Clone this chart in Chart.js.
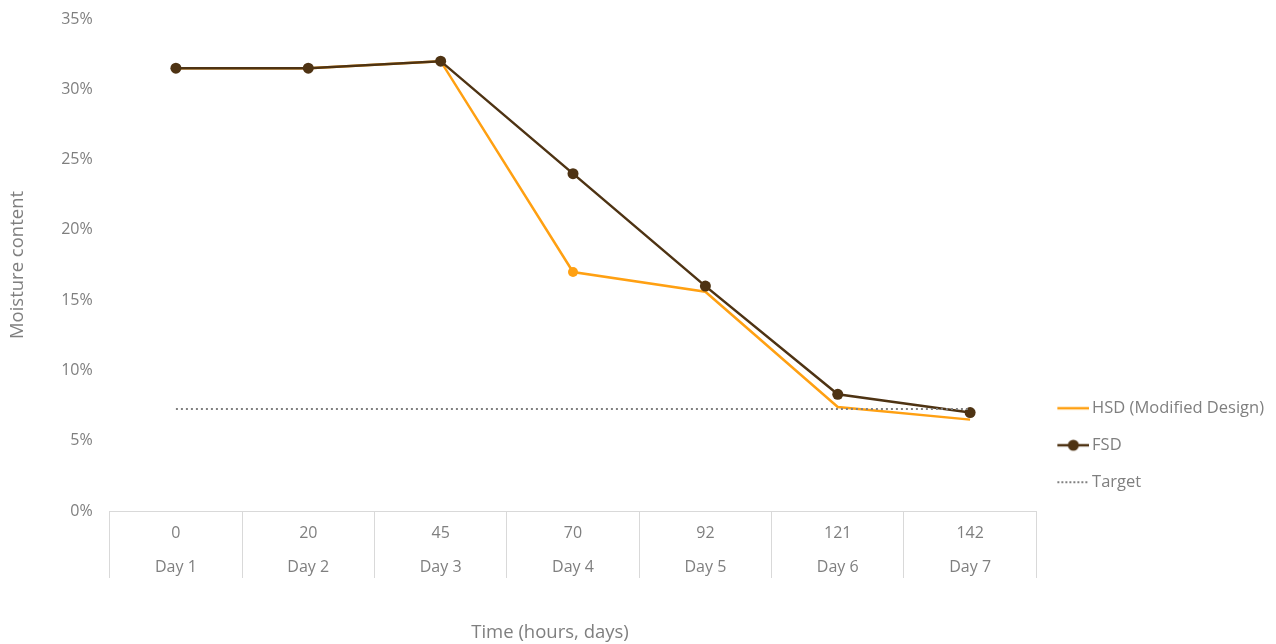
<!DOCTYPE html>
<html>
<head>
<meta charset="utf-8">
<script src="https://cdn.jsdelivr.net/npm/chart.js@4.4.1/dist/chart.umd.min.js"></script>
<style>
  html, body { margin: 0; padding: 0; background: #ffffff; }
  #wrap { width: 1276px; height: 644px; position: relative; }
</style>
</head>
<body>
<div id="wrap"><canvas id="c"></canvas></div>
<script>
const hours = ['0', '20', '45', '70', '92', '121', '142'];
const days = ['Day 1', 'Day 2', 'Day 3', 'Day 4', 'Day 5', 'Day 6', 'Day 7'];
const hsdValues = [31.5, 31.5, 32.0, 17.0, 15.6, 7.4, 6.5];
const fsdValues = [31.5, 31.5, 32.0, 24.0, 16.0, 8.3, 7.0];
const targetValues = [7.25, 7.25, 7.25, 7.25, 7.25, 7.25, 7.25];
const yTicks = [0, 5, 10, 15, 20, 25, 30, 35];
const xTitle = 'Time (hours, days)';
const yTitle = 'Moisture content';

const ORANGE = '#FFA012';
const BROWN = '#4E3313';
const GREY_TEXT = '#7f7f7f';
const FONT = "'Open Sans', sans-serif";

function marker(kind) {
  const cv = document.createElement('canvas');
  cv.width = 38; cv.height = 14;
  const g = cv.getContext('2d');
  g.lineWidth = 2.5;
  if (kind === 'hsd') {
    g.strokeStyle = ORANGE;
    g.beginPath(); g.moveTo(6, 7); g.lineTo(38, 7); g.stroke();
  } else if (kind === 'fsd') {
    g.strokeStyle = BROWN;
    g.beginPath(); g.moveTo(6, 7); g.lineTo(38, 7); g.stroke();
    g.fillStyle = BROWN;
    g.beginPath(); g.arc(22, 7, 5.5, 0, Math.PI * 2); g.fill();
  } else {
    g.strokeStyle = '#808080';
    g.lineWidth = 2;
    g.setLineDash([2, 2]);
    g.beginPath(); g.moveTo(6, 7); g.lineTo(38, 7); g.stroke();
  }
  return cv;
}

const labels = hours.map((h, i) => [h, days[i]]);

const xTitlePlugin = {
  id: 'xTitlePlugin',
  afterDraw(chart) {
    const ctx = chart.ctx;
    ctx.save();
    ctx.font = "18.5px 'Open Sans', sans-serif";
    ctx.fillStyle = GREY_TEXT;
    ctx.textAlign = 'center';
    ctx.textBaseline = 'middle';
    ctx.fillText(xTitle, 550, 633);
    ctx.restore();
  }
};

new Chart(document.getElementById('c'), {
  type: 'line',
  data: {
    labels: labels,
    datasets: [
      {
        label: 'HSD (Modified Design)',
        data: hsdValues,
        borderColor: ORANGE,
        backgroundColor: ORANGE,
        borderWidth: 2.5,
        pointRadius: [0, 0, 0, 5, 0, 0, 0],
        pointHoverRadius: [0, 0, 0, 5, 0, 0, 0],
        pointBackgroundColor: ORANGE,
        pointBorderWidth: 0,
        tension: 0,
        order: 2,
        legendMarker: 'hsd'
      },
      {
        label: 'FSD',
        data: fsdValues,
        borderColor: BROWN,
        backgroundColor: BROWN,
        borderWidth: 2.5,
        pointRadius: 5.5,
        pointHoverRadius: 5.5,
        pointBackgroundColor: BROWN,
        pointBorderWidth: 0,
        tension: 0,
        order: 1,
        legendMarker: 'fsd'
      },
      {
        label: 'Target',
        data: targetValues,
        borderColor: '#808080',
        backgroundColor: '#808080',
        borderWidth: 2,
        borderDash: [2, 3],
        pointRadius: 0,
        pointHoverRadius: 0,
        tension: 0,
        order: 0,
        legendMarker: 'target'
      }
    ]
  },
  plugins: [xTitlePlugin],
  options: {
    responsive: true,
    maintainAspectRatio: false,
    animation: false,
    layout: { padding: { left: 4, right: 2, top: 0, bottom: 0 } },
    plugins: {
      tooltip: { enabled: false },
      legend: {
        position: 'right',
        align: 'end',
        fullSize: false,
        labels: {
          usePointStyle: true,
          pointStyleWidth: 27,
          boxHeight: 15,
          padding: 20.5,
          color: GREY_TEXT,
          font: { family: FONT, size: 16.5 },
          generateLabels: (chart) => {
            return chart.data.datasets.map((ds, i) => ({
              text: ds.label,
              datasetIndex: i,
              pointStyle: marker(ds.legendMarker),
              fillStyle: ds.borderColor,
              strokeStyle: ds.borderColor,
              lineWidth: 0,
              hidden: false,
              fontColor: GREY_TEXT
            }));
          },
          sort: (a, b) => a.datasetIndex - b.datasetIndex
        }
      }
    },
    scales: {
      x: {
        offset: true,
        afterFit: (scale) => { scale.height = 133; },
        grid: {
          display: true,
          offset: true,
          drawOnChartArea: false,
          drawTicks: true,
          tickLength: 67,
          color: '#d9d9d9',
          lineWidth: 1
        },
        border: { display: true, color: '#d9d9d9', width: 1 },
        ticks: {
          padding: -62,
          color: GREY_TEXT,
          font: { family: FONT, size: 16, lineHeight: 34 / 16 },
          maxRotation: 0,
          autoSkip: false
        },
        title: { display: false, text: xTitle }
      },
      y: {
        min: 0,
        max: 35,
        afterBuildTicks: (axis) => { axis.ticks = yTicks.map(v => ({ value: v })); },
        afterFit: (scale) => { scale.paddingTop = 19; },
        grid: { display: false, drawTicks: false },
        border: { display: false },
        ticks: {
          padding: 17,
          color: GREY_TEXT,
          font: { family: FONT, size: 16, lineHeight: 1 },
          callback: (v) => v + '%'
        },
        title: {
          display: true,
          text: yTitle,
          color: GREY_TEXT,
          font: { family: FONT, size: 18.5 },
          padding: { top: 3, bottom: 15 }
        }
      }
    }
  }
});
</script>
</body>
</html>
